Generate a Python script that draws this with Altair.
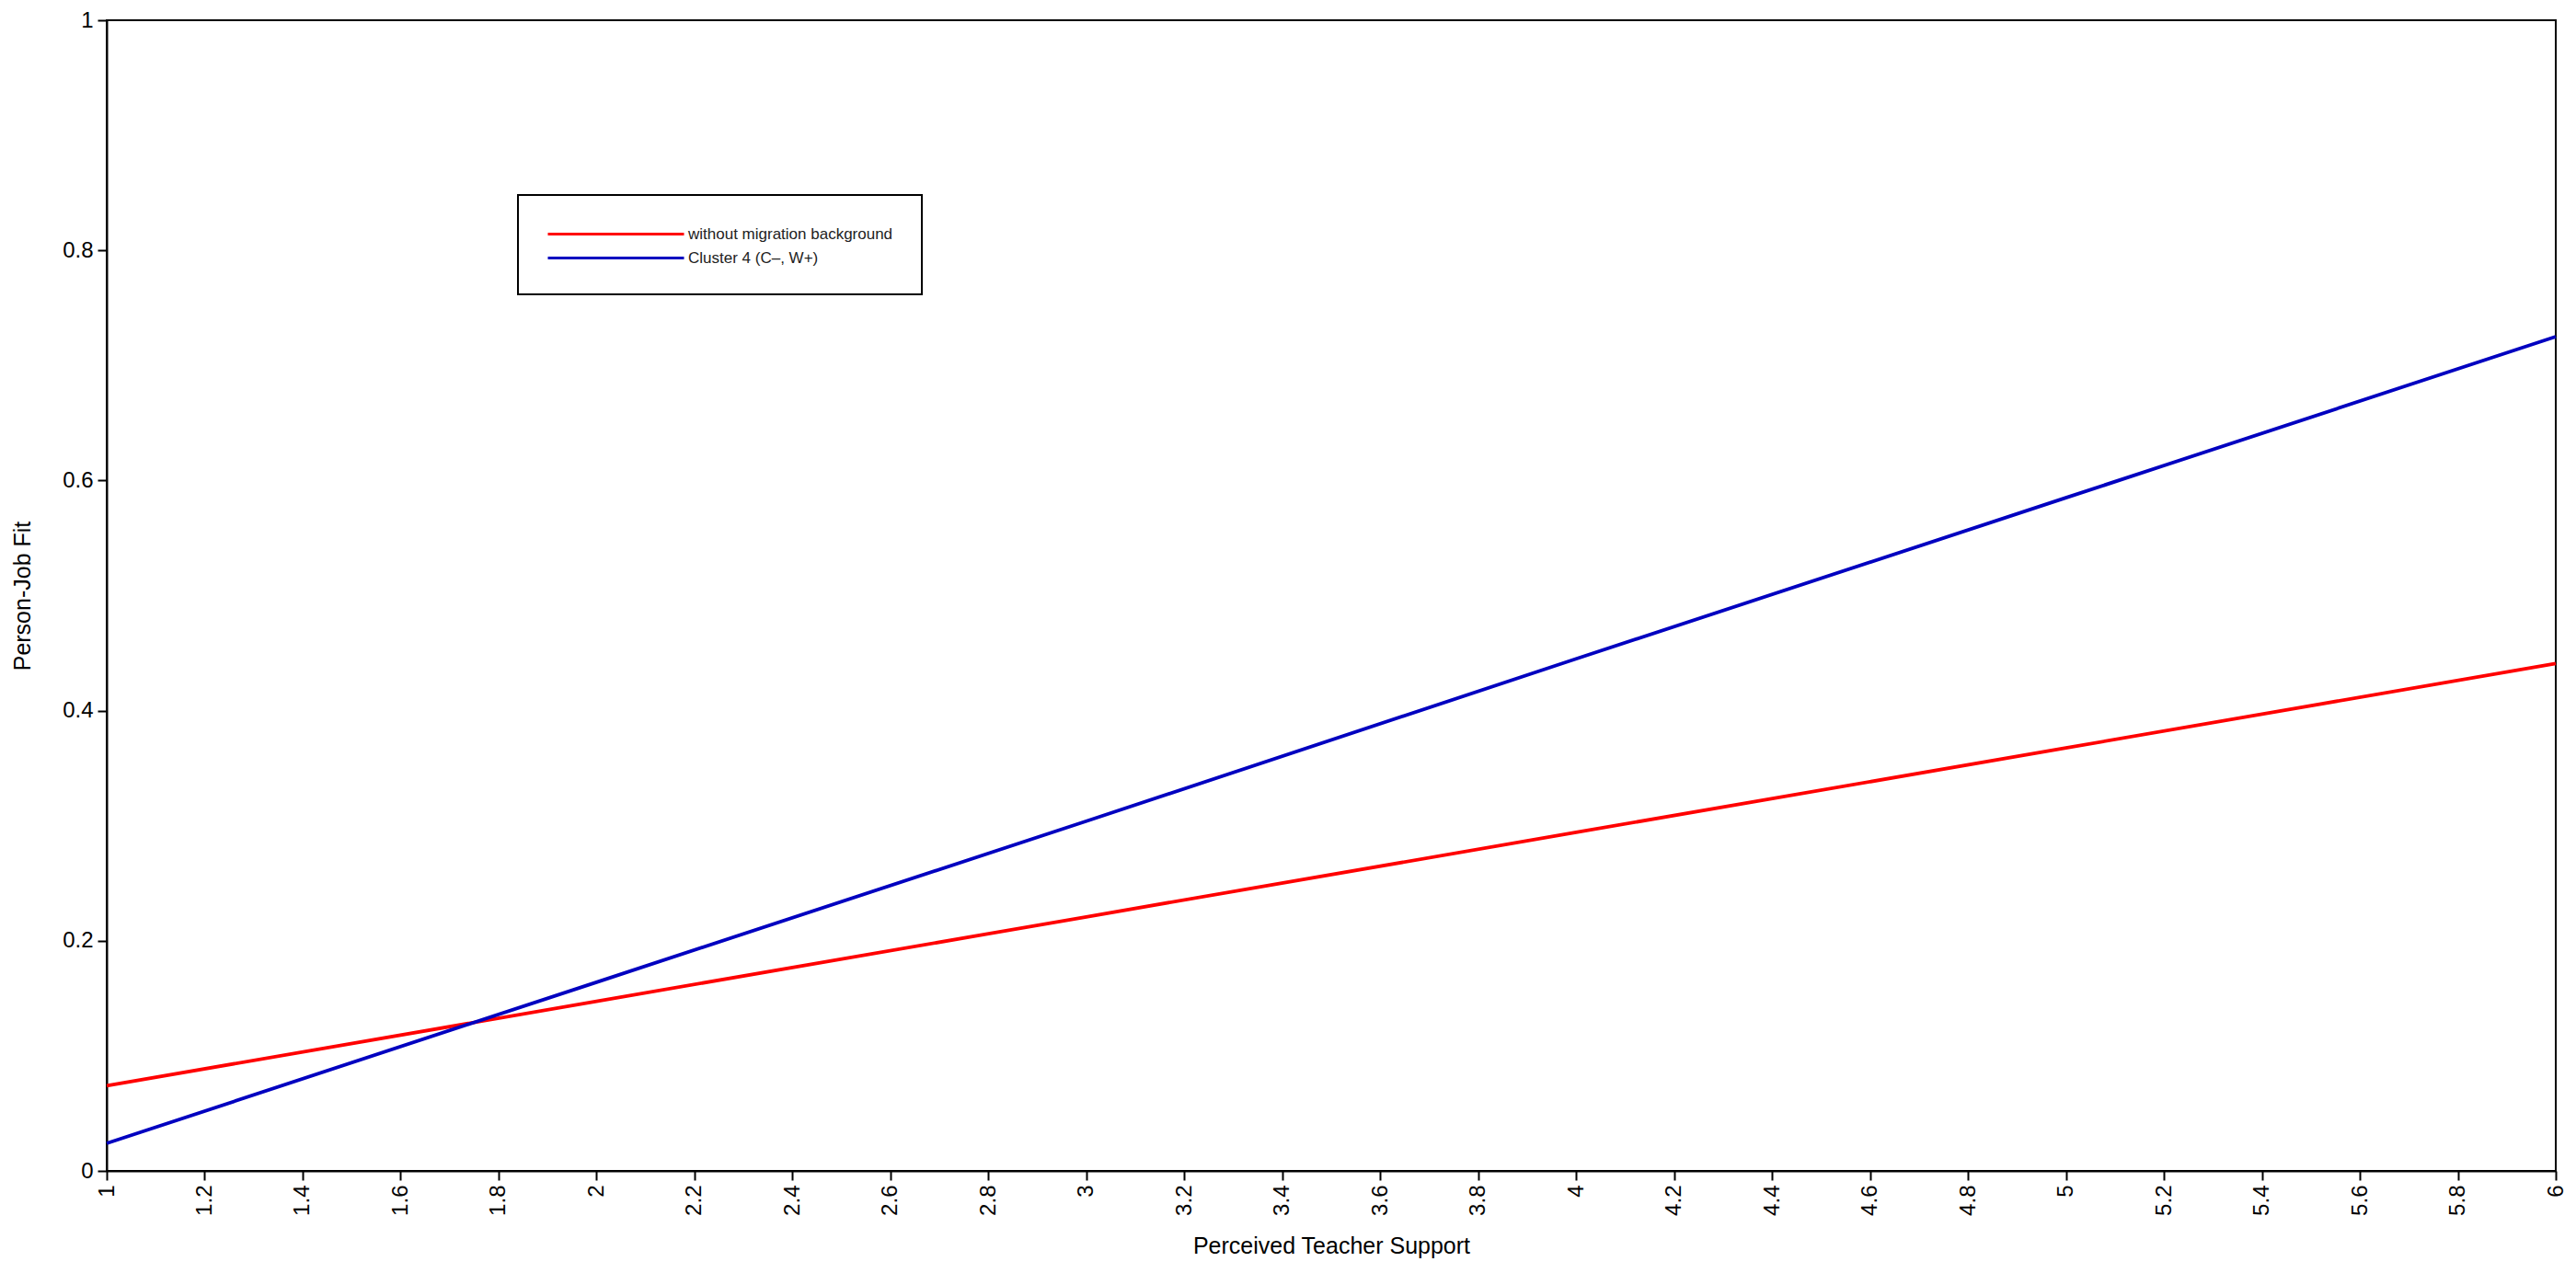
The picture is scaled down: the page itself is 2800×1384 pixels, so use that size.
import altair as alt
import pandas as pd

# Data
x_vals = [1, 2, 3, 4, 5, 6]
red_vals = [0.074, 0.1474, 0.2208, 0.2942, 0.3676, 0.441]
blue_vals = [0.024, 0.164, 0.304, 0.445, 0.585, 0.725]
series_names = ["without migration background", "Cluster 4 (C\u2013, W+)"]
series_colors = ["#ff0000", "#0000c0"]
x_ticks = [round(1 + 0.2 * i, 1) for i in range(26)]
y_ticks = [0, 0.2, 0.4, 0.6, 0.8, 1]

rows = []
for xv, r in zip(x_vals, red_vals):
    rows.append({"x": xv, "y": r, "series": series_names[0]})
for xv, b in zip(x_vals, blue_vals):
    rows.append({"x": xv, "y": b, "series": series_names[1]})
df = pd.DataFrame(rows)

FONT = "Liberation Sans"

chart = alt.Chart(df).mark_line(strokeWidth=3.8).encode(
    x=alt.X("x:Q",
            scale=alt.Scale(domain=[1, 6], nice=False, zero=False),
            axis=alt.Axis(values=x_ticks, format="~g", labelAngle=270,
                          title="Perceived Teacher Support", titlePadding=21)),
    y=alt.Y("y:Q",
            scale=alt.Scale(domain=[0, 1], nice=False),
            axis=alt.Axis(values=y_ticks, format="~g",
                          title="Person-Job Fit", titlePadding=30)),
    color=alt.Color("series:N",
                    scale=alt.Scale(domain=series_names, range=series_colors),
                    legend=alt.Legend(title=None, orient="none",
                                      legendX=447, legendY=190,
                                      symbolType="M-1,0H13.8", symbolSize=400,
                                      symbolStrokeWidth=3,
                                      labelFontSize=17, labelFont=FONT,
                                      labelColor="#222222", labelOffset=131,
                                      labelLimit=500,
                                      padding=31, rowPadding=6,
                                      strokeColor="black", fillColor="white")),
    detail="series:N",
).properties(
    width=2662,
    height=1251,
    autosize=alt.AutoSizeParams(type="none"),
    padding={"left": 108, "top": 14, "right": 14, "bottom": 100},
).configure_view(
    stroke="black", strokeWidth=2
).configure_axis(
    grid=False,
    domainColor="black", domainWidth=2,
    tickColor="black", tickWidth=2, tickSize=10,
    labelFont=FONT, labelFontSize=24, labelColor="black", labelPadding=5,
    titleFont=FONT, titleFontSize=25, titleColor="black", titleFontWeight="normal",
).configure_legend(
    strokeWidth=2
)

chart.save("out.html", embed_options={"renderer": "svg", "actions": False})
